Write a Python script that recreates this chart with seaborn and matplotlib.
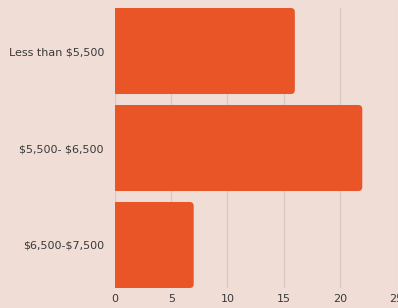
import matplotlib
matplotlib.use("Agg")
import matplotlib.pyplot as plt
from matplotlib.patches import FancyBboxPatch
import seaborn as sns
import pandas as pd

categories = ["Less than $5,500", "$5,500- $6,500", "$6,500-$7,500"]
values = [16, 22, 7]
xticks = [0, 5, 10, 15, 20, 25]

bg = "#EFDDD6"
bar_color = "#EA5528"

sns.set_theme(style="white")
plt.rcParams['font.family'] = ['DejaVu Sans']
plt.rcParams['text.parse_math'] = False

df = pd.DataFrame({"cat": categories, "val": values})

fig = plt.figure(figsize=(3.98, 3.08), dpi=100, facecolor=bg)
ax = fig.add_axes([115/398, 20/308, 281/398, 280/308])
ax.set_facecolor(bg)

w = 0.887
sns.barplot(data=df, x="val", y="cat", orient="h", color=bar_color,
            width=w, saturation=1, ax=ax, zorder=3, linewidth=0)

ax.set_xlim(0, 25)
ax.set_ylim(2 + w/2, -w/2)

# round the right-hand corners of the bars
xpp = 25 / 281
ypp = (2 + w) / 280
r = 4 * xpp
for p in list(ax.patches):
    x0, y0, bw, bh = p.get_x(), p.get_y(), p.get_width(), p.get_height()
    fb = FancyBboxPatch((x0 - 1, y0), bw + 1, bh,
                        boxstyle=f"round,pad=0,rounding_size={r}",
                        mutation_aspect=ypp / xpp,
                        facecolor=p.get_facecolor(), edgecolor="none",
                        linewidth=0, zorder=3)
    p.remove()
    ax.add_patch(fb)

ax.set_xticks(xticks)
ax.set_xticklabels([str(t) for t in xticks])
ax.grid(axis="x", color="#D8C8C2", linewidth=0.9, zorder=0)
ax.grid(axis="y", visible=False)
for s in ax.spines.values():
    s.set_visible(False)
ax.tick_params(axis="both", length=0, labelsize=8, colors="#3A3A3A")
ax.tick_params(axis="x", pad=4)
ax.tick_params(axis="y", pad=8)
ax.set_xlabel("")
ax.set_ylabel("")

fig.savefig("out.png", dpi=100, facecolor=bg)
